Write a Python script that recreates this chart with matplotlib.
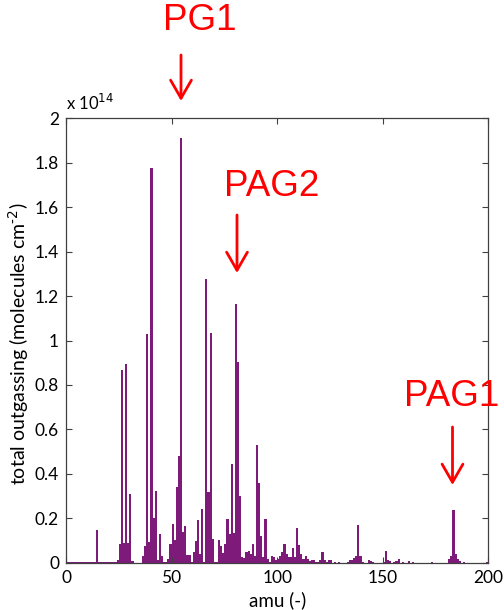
import matplotlib
matplotlib.use("Agg")
import matplotlib.pyplot as plt
import numpy as np

# ---- data (total outgassing, units of 1e14 molecules cm^-2) ----
amu = [1, 2, 3, 4, 5, 6, 7, 8, 9, 10, 11, 12, 13, 14,
       15, 16, 17, 18, 19, 20, 21, 22, 23, 24,
       25, 26, 27, 28, 29, 30, 31, 32,
       37, 38, 39, 40, 41, 42, 43, 44, 45, 46, 47, 48, 49, 50,
       51, 52, 53, 54, 55, 56, 57, 58, 59, 60,
       61, 62, 63, 64, 65, 66, 67, 68, 69, 70,
       71, 72, 73, 74, 75, 76, 77, 78, 79, 80,
       81, 82, 83, 84, 85, 86, 87, 88, 89, 90,
       91, 92, 93, 94, 95, 96, 97, 98, 99, 100,
       101, 102, 103, 104, 105, 106, 107, 108, 109, 110,
       111, 112, 113, 114, 115, 116, 117, 118, 119, 120,
       121, 122, 123, 124, 125, 126, 128, 130,
       134, 135, 136, 137, 138, 139, 140, 141,
       144, 145, 146, 151, 152, 153, 154, 156, 157, 158,
       160, 163, 165, 174, 182, 183, 184, 185, 186, 187, 189, 200]
outgassing = [0.004, 0.005, 0.003, 0.005, 0.004, 0.003, 0.004, 0.003, 0.002, 0.003, 0.002, 0.004, 0.003, 0.004,
              0.145, 0.004, 0.003, 0.004, 0.002, 0.002, 0.002, 0.003, 0.004, 0.003,
              0.010, 0.085, 0.868, 0.090, 0.895, 0.090, 0.307, 0.008,
              0.030, 0.075, 1.029, 0.095, 1.775, 0.203, 0.323, 0.010, 0.127, 0.030, 0.003, 0.003, 0.015, 0.085,
              0.172, 0.100, 0.341, 0.482, 1.910, 0.137, 0.164, 0.033, 0.033, 0.005,
              0.048, 0.097, 0.190, 0.037, 0.243, 0.005, 1.279, 0.317, 1.033, 0.105,
              0.005, 0.005, 0.100, 0.075, 0.045, 0.085, 0.196, 0.127, 0.446, 0.134,
              1.165, 0.905, 0.302, 0.027, 0.020, 0.050, 0.053, 0.040, 0.083, 0.030,
              0.531, 0.359, 0.120, 0.025, 0.196, 0.015, 0.004, 0.030, 0.025, 0.010,
              0.015, 0.030, 0.048, 0.085, 0.040, 0.025, 0.025, 0.064, 0.025, 0.157,
              0.078, 0.037, 0.015, 0.030, 0.015, 0.006, 0.012, 0.010, 0.003, 0.004,
              0.012, 0.048, 0.012, 0.004, 0.012, 0.010, 0.004, 0.003,
              0.004, 0.010, 0.012, 0.020, 0.031, 0.170, 0.031, 0.003,
              0.012, 0.007, 0.004, 0.003, 0.052, 0.012, 0.006, 0.004, 0.008, 0.015,
              0.004, 0.006, 0.004, 0.004, 0.015, 0.030, 0.237, 0.039, 0.015, 0.008, 0.004, 0.004]

x_ticks = [0, 50, 100, 150, 200]
y_ticks = [0, 0.2, 0.4, 0.6, 0.8, 1.0, 1.2, 1.4, 1.6, 1.8, 2.0]

annot_labels = ["PG1", "PAG2", "PAG1"]
annot_amu = [55, 81, 184]

# ---- figure ----
fig = plt.figure(figsize=(5.04, 6.10), dpi=100)
ax = fig.add_axes([66 / 504, 1 - 562.7 / 610, (488.3 - 66) / 504, (562.7 - 118.3) / 610])

purple = "#7E1B7A"
ax.bar(np.array(amu) - 0.5, outgassing, width=1.0, color=purple, edgecolor="none")

ax.set_xlim(0, 200)
ax.set_ylim(0, 2)
ax.set_xticks(x_ticks)
ax.set_yticks(y_ticks)
ax.set_yticklabels([f"{v:g}" for v in y_ticks])
ax.set_xticklabels([f"{v:g}" for v in x_ticks])

frame_col = "#404040"
for s in ax.spines.values():
    s.set_color(frame_col)
    s.set_linewidth(0.9)
ax.tick_params(direction="in", length=4, width=0.8, color=frame_col,
               top=True, right=True, labelsize=12.5, pad=5)
for lbl in ax.get_xticklabels() + ax.get_yticklabels():
    lbl.set_family("Lato")

ax.set_xlabel("amu (-)", fontsize=13.5, family="Lato", labelpad=4)
ax.set_ylabel(r"total outgassing (molecules cm$^{\text{-2}}$)", fontsize=14, family="Lato")
ax.yaxis.set_label_coords(-0.082, 0.493)

ax.text(0.0, 1.012, r"x 10$^{14}$", transform=ax.transAxes, fontsize=12,
        family="Lato", ha="left", va="bottom")

# ---- red annotations (figure pixel positions) ----
H = 610.0
red = "#FF0000"
text_pos = [(200, 20), (272, 186), (452, 396)]
arrow_pos = [(181, 55, 101), (237, 215, 273), (452.5, 427, 485)]
for lab, (tx, ty), (axx, y0, y1) in zip(annot_labels, text_pos, arrow_pos):
    fig.text(tx / 504, 1 - ty / H, lab, color=red, fontsize=26.5,
             family="Liberation Sans", ha="center", va="center")
    fig.add_artist(matplotlib.patches.FancyArrowPatch(
        (axx / 504, 1 - y0 / H), (axx / 504, 1 - y1 / H),
        transform=fig.transFigure, arrowstyle="->,head_length=1.3,head_width=0.75",
        mutation_scale=10, color=red, lw=2.0, shrinkA=0, shrinkB=0))

fig.savefig("out.png", dpi=100)
